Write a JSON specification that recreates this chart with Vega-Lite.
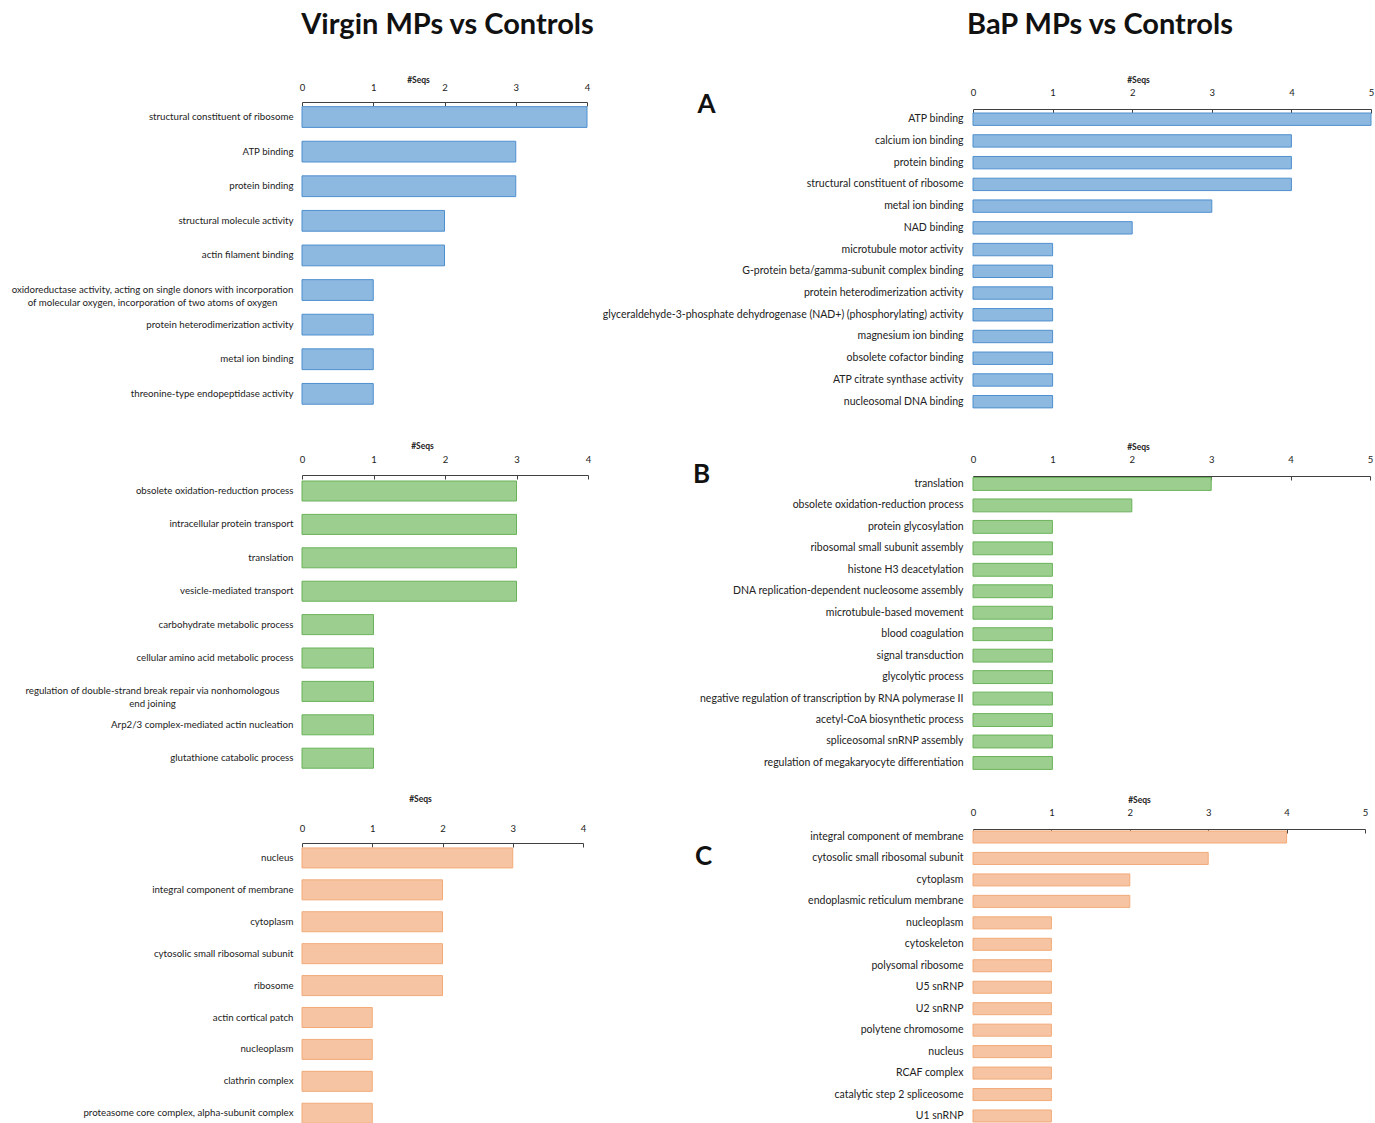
{
  "$schema": "https://vega.github.io/schema/vega-lite/v6.json",
  "padding": {"left": 11, "top": 11, "right": 5, "bottom": 5},
  "config": {"font": "Lato", "view": {"stroke": null}},
  "datasets": {
    "virginA": [
      {"term": "structural constituent of ribosome", "seqs": 4},
      {"term": "ATP binding", "seqs": 3},
      {"term": "protein binding", "seqs": 3},
      {"term": "structural molecule activity", "seqs": 2},
      {"term": "actin filament binding", "seqs": 2},
      {"term": "oxidoreductase activity, acting on single donors with incorporation\nof molecular oxygen, incorporation of two atoms of oxygen", "seqs": 1},
      {"term": "protein heterodimerization activity", "seqs": 1},
      {"term": "metal ion binding", "seqs": 1},
      {"term": "threonine-type endopeptidase activity", "seqs": 1}
    ],
    "virginB": [
      {"term": "obsolete oxidation-reduction process", "seqs": 3},
      {"term": "intracellular protein transport", "seqs": 3},
      {"term": "translation", "seqs": 3},
      {"term": "vesicle-mediated transport", "seqs": 3},
      {"term": "carbohydrate metabolic process", "seqs": 1},
      {"term": "cellular amino acid metabolic process", "seqs": 1},
      {"term": "regulation of double-strand break repair via nonhomologous\nend joining", "seqs": 1},
      {"term": "Arp2/3 complex-mediated actin nucleation", "seqs": 1},
      {"term": "glutathione catabolic process", "seqs": 1}
    ],
    "virginC": [
      {"term": "nucleus", "seqs": 3},
      {"term": "integral component of membrane", "seqs": 2},
      {"term": "cytoplasm", "seqs": 2},
      {"term": "cytosolic small ribosomal subunit", "seqs": 2},
      {"term": "ribosome", "seqs": 2},
      {"term": "actin cortical patch", "seqs": 1},
      {"term": "nucleoplasm", "seqs": 1},
      {"term": "clathrin complex", "seqs": 1},
      {"term": "proteasome core complex, alpha-subunit complex", "seqs": 1}
    ],
    "bapA": [
      {"term": "ATP binding", "seqs": 5},
      {"term": "calcium ion binding", "seqs": 4},
      {"term": "protein binding", "seqs": 4},
      {"term": "structural constituent of ribosome", "seqs": 4},
      {"term": "metal ion binding", "seqs": 3},
      {"term": "NAD binding", "seqs": 2},
      {"term": "microtubule motor activity", "seqs": 1},
      {"term": "G-protein beta/gamma-subunit complex binding", "seqs": 1},
      {"term": "protein heterodimerization activity", "seqs": 1},
      {"term": "glyceraldehyde-3-phosphate dehydrogenase (NAD+) (phosphorylating) activity", "seqs": 1},
      {"term": "magnesium ion binding", "seqs": 1},
      {"term": "obsolete cofactor binding", "seqs": 1},
      {"term": "ATP citrate synthase activity", "seqs": 1},
      {"term": "nucleosomal DNA binding", "seqs": 1}
    ],
    "bapB": [
      {"term": "translation", "seqs": 3},
      {"term": "obsolete oxidation-reduction process", "seqs": 2},
      {"term": "protein glycosylation", "seqs": 1},
      {"term": "ribosomal small subunit assembly", "seqs": 1},
      {"term": "histone H3 deacetylation", "seqs": 1},
      {"term": "DNA replication-dependent nucleosome assembly", "seqs": 1},
      {"term": "microtubule-based movement", "seqs": 1},
      {"term": "blood coagulation", "seqs": 1},
      {"term": "signal transduction", "seqs": 1},
      {"term": "glycolytic process", "seqs": 1},
      {"term": "negative regulation of transcription by RNA polymerase II", "seqs": 1},
      {"term": "acetyl-CoA biosynthetic process", "seqs": 1},
      {"term": "spliceosomal snRNP assembly", "seqs": 1},
      {"term": "regulation of megakaryocyte differentiation", "seqs": 1}
    ],
    "bapC": [
      {"term": "integral component of membrane", "seqs": 4},
      {"term": "cytosolic small ribosomal subunit", "seqs": 3},
      {"term": "cytoplasm", "seqs": 2},
      {"term": "endoplasmic reticulum membrane", "seqs": 2},
      {"term": "nucleoplasm", "seqs": 1},
      {"term": "cytoskeleton", "seqs": 1},
      {"term": "polysomal ribosome", "seqs": 1},
      {"term": "U5 snRNP", "seqs": 1},
      {"term": "U2 snRNP", "seqs": 1},
      {"term": "polytene chromosome", "seqs": 1},
      {"term": "nucleus", "seqs": 1},
      {"term": "RCAF complex", "seqs": 1},
      {"term": "catalytic step 2 spliceosome", "seqs": 1},
      {"term": "U1 snRNP", "seqs": 1}
    ]
  },
  "columns": 2,
  "spacing": {"row": 43, "column": 385},
  "bounds": "flush",
  "align": "each",
  "concat": [
    {
      "width": 285, "height": 320,
      "title": {"text": "Virgin MPs vs Controls", "fontSize": 29, "fontWeight": "bold", "color": "#111", "anchor": "middle", "frame": "group", "dx": 3, "offset": 35},
      "data": {"name": "virginA"},
      "mark": {"type": "bar", "fill": "#8DB9E0", "stroke": "#4F8FCE", "strokeWidth": 1},
      "encoding": {
        "y": {"field": "term", "type": "nominal", "sort": null,
          "scale": {"paddingInner": 0.4, "paddingOuter": 0.324, "align": 0.207},
          "axis": {"title": null, "domain": false, "ticks": false,
            "labelPadding": {"condition": {"test": "indexof(datum.value, '\\n') >= 0", "value": 150}, "value": 9},
            "labelAlign": {"condition": {"test": "indexof(datum.value, '\\n') >= 0", "value": "center"}, "value": "right"},
            "labelExpr": "split(datum.label, '\\n')", "labelFontSize": 9.7, "labelLimit": 0, "labelLineHeight": 13, "labelColor": "#222"}},
        "x": {"field": "seqs", "type": "quantitative", "scale": {"domain": [0, 4], "nice": false},
          "axis": {"orient": "top", "title": "#Seqs", "values": [0, 1, 2, 3, 4], "format": "d", "grid": false, "labelFlush": false,
            "domainColor": "#404040", "tickColor": "#404040", "tickSize": -4, "labelPadding": 19, "labelBaseline": "middle",
            "labelFontSize": 9.5, "labelColor": "#222", "titleX": 116, "titleY": -23, "titleBaseline": "middle", "titleAlign": "center",
            "titleFontSize": 8.5, "titleFontWeight": "bold", "titleColor": "#222", "offset": 0}}
      }
    },
    {
      "width": 398, "height": 320,
      "title": {"text": "BaP MPs vs Controls", "fontSize": 29, "fontWeight": "bold", "color": "#111", "anchor": "middle", "frame": "group", "dx": -72, "offset": 35},
      "data": {"name": "bapA"},
      "mark": {"type": "bar", "fill": "#8DB9E0", "stroke": "#4F8FCE", "strokeWidth": 1},
      "encoding": {
        "y": {"field": "term", "type": "nominal", "sort": null,
          "scale": {"paddingInner": 0.43, "paddingOuter": 0.578, "align": 0.438},
          "axis": {"title": "A", "titleAngle": 0, "titleX": -267, "titleY": 2, "titleBaseline": "middle", "titleAlign": "center",
            "titleFontSize": 26, "titleFontWeight": "bold", "titleColor": "#111",
            "domain": false, "ticks": false, "labelPadding": 10, "labelFontSize": 10.5, "labelLimit": 0, "labelColor": "#222"}},
        "x": {"field": "seqs", "type": "quantitative", "scale": {"domain": [0, 5], "nice": false},
          "axis": {"orient": "top", "title": "#Seqs", "values": [0, 1, 2, 3, 4, 5], "format": "d", "grid": false, "labelFlush": false,
            "domainColor": "#404040", "tickColor": "#404040", "tickSize": -4, "labelPadding": 21, "labelBaseline": "middle",
            "labelFontSize": 9.5, "labelColor": "#222", "titleX": 165, "titleY": -30, "titleBaseline": "middle", "titleAlign": "center",
            "titleFontSize": 8.5, "titleFontWeight": "bold", "titleColor": "#222", "offset": -7}}
      }
    },
    {
      "width": 286, "height": 320,
      "data": {"name": "virginB"},
      "mark": {"type": "bar", "fill": "#9CCF8F", "stroke": "#6AB25A", "strokeWidth": 1},
      "encoding": {
        "y": {"field": "term", "type": "nominal", "sort": null,
          "scale": {"paddingInner": 0.401, "paddingOuter": 0.491, "align": 0.488},
          "axis": {"title": null, "domain": false, "ticks": false,
            "labelPadding": {"condition": {"test": "indexof(datum.value, '\\n') >= 0", "value": 150}, "value": 9},
            "labelAlign": {"condition": {"test": "indexof(datum.value, '\\n') >= 0", "value": "center"}, "value": "right"},
            "labelExpr": "split(datum.label, '\\n')", "labelFontSize": 9.7, "labelLimit": 0, "labelLineHeight": 13, "labelColor": "#222"}},
        "x": {"field": "seqs", "type": "quantitative", "scale": {"domain": [0, 4], "nice": false},
          "axis": {"orient": "top", "title": "#Seqs", "values": [0, 1, 2, 3, 4], "format": "d", "grid": false, "labelFlush": false,
            "domainColor": "#404040", "tickColor": "#404040", "tickSize": -4, "labelPadding": 20, "labelBaseline": "middle",
            "labelFontSize": 9.5, "labelColor": "#222", "titleX": 120, "titleY": -30, "titleBaseline": "middle", "titleAlign": "center",
            "titleFontSize": 8.5, "titleFontWeight": "bold", "titleColor": "#222", "offset": -10}}
      }
    },
    {
      "width": 397, "height": 320,
      "data": {"name": "bapB"},
      "mark": {"type": "bar", "fill": "#9CCF8F", "stroke": "#6AB25A", "strokeWidth": 1},
      "encoding": {
        "y": {"field": "term", "type": "nominal", "sort": null,
          "scale": {"paddingInner": 0.4, "paddingOuter": 0.655, "align": 0.445},
          "axis": {"title": "B", "titleAngle": 0, "titleX": -272, "titleY": 9, "titleBaseline": "middle", "titleAlign": "center",
            "titleFontSize": 26, "titleFontWeight": "bold", "titleColor": "#111",
            "domain": false, "ticks": false, "labelPadding": 10, "labelFontSize": 10.5, "labelLimit": 0, "labelColor": "#222"}},
        "x": {"field": "seqs", "type": "quantitative", "scale": {"domain": [0, 5], "nice": false},
          "axis": {"orient": "top", "title": "#Seqs", "values": [0, 1, 2, 3, 4, 5], "format": "d", "grid": false, "labelFlush": false,
            "domainColor": "#404040", "tickColor": "#404040", "tickSize": -4, "labelPadding": 21, "labelBaseline": "middle",
            "labelFontSize": 9.5, "labelColor": "#222", "titleX": 165, "titleY": -30, "titleBaseline": "middle", "titleAlign": "center",
            "titleFontSize": 8.5, "titleFontWeight": "bold", "titleColor": "#222", "offset": -11}}
      }
    },
    {
      "width": 281, "height": 320,
      "data": {"name": "virginC"},
      "mark": {"type": "bar", "fill": "#F6C4A2", "stroke": "#F2AA78", "strokeWidth": 1},
      "encoding": {
        "y": {"field": "term", "type": "nominal", "sort": null,
          "scale": {"paddingInner": 0.373, "paddingOuter": 0.7, "align": 0.446},
          "axis": {"title": null, "domain": false, "ticks": false, "labelPadding": 9, "labelFontSize": 9.7, "labelLimit": 0, "labelColor": "#222"}},
        "x": {"field": "seqs", "type": "quantitative", "scale": {"domain": [0, 4], "nice": false},
          "axis": {"orient": "top", "title": "#Seqs", "values": [0, 1, 2, 3, 4], "format": "d", "grid": false, "labelFlush": false,
            "domainColor": "#404040", "tickColor": "#404040", "tickSize": -4, "labelPadding": 19, "labelBaseline": "middle",
            "labelFontSize": 9.5, "labelColor": "#222", "titleX": 118, "titleY": -45, "titleBaseline": "middle", "titleAlign": "center",
            "titleFontSize": 8.5, "titleFontWeight": "bold", "titleColor": "#222", "offset": -15}}
      }
    },
    {
      "width": 392, "height": 320,
      "data": {"name": "bapC"},
      "mark": {"type": "bar", "fill": "#F6C4A2", "stroke": "#F2AA78", "strokeWidth": 1},
      "encoding": {
        "y": {"field": "term", "type": "nominal", "sort": null,
          "scale": {"paddingInner": 0.44, "paddingOuter": 0.675, "align": 0.103},
          "axis": {"title": "C", "titleAngle": 0, "titleX": -270, "titleY": 28, "titleBaseline": "middle", "titleAlign": "center",
            "titleFontSize": 26, "titleFontWeight": "bold", "titleColor": "#111",
            "domain": false, "ticks": false, "labelPadding": 10, "labelFontSize": 10.5, "labelLimit": 0, "labelColor": "#222"}},
        "x": {"field": "seqs", "type": "quantitative", "scale": {"domain": [0, 5], "nice": false},
          "axis": {"orient": "top", "title": "#Seqs", "values": [0, 1, 2, 3, 4, 5], "format": "d", "grid": false, "labelFlush": false,
            "domainColor": "#404040", "tickColor": "#404040", "tickSize": -4, "labelPadding": 21, "labelBaseline": "middle",
            "labelFontSize": 9.5, "labelColor": "#222", "titleX": 166, "titleY": -30, "titleBaseline": "middle", "titleAlign": "center",
            "titleFontSize": 8.5, "titleFontWeight": "bold", "titleColor": "#222", "offset": -1}}
      }
    }
  ]
}
